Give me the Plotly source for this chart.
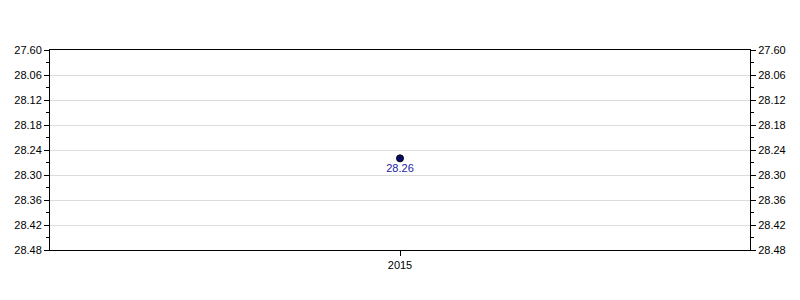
import plotly.graph_objects as go

years = [2015]
values = [28.26]
tick_vals = [28.00, 28.06, 28.12, 28.18, 28.24, 28.30, 28.36, 28.42, 28.48]
tick_text = ["27.60", "28.06", "28.12", "28.18", "28.24", "28.30", "28.36", "28.42", "28.48"]
y_range = [28.48, 28.00]

fig = go.Figure()
fig.add_trace(go.Scatter(
    x=years, y=values, mode="markers+text",
    text=[f"{v:.2f}" for v in values], textposition="bottom center",
    textfont=dict(family="Liberation Sans, Arial", size=11, color="#1a1aa6"),
    marker=dict(size=7, color="#0a0a6e", line=dict(color="black", width=1)),
    showlegend=False, cliponaxis=False,
))
fig.add_trace(go.Scatter(x=years, y=values, yaxis="y2", mode="markers",
                         marker=dict(opacity=0), showlegend=False, hoverinfo="skip"))

axis_common = dict(
    range=y_range, tickvals=tick_vals, ticktext=tick_text,
    ticks="outside", ticklen=5, tickcolor="black", tickwidth=1,
    showline=True, linecolor="black", linewidth=1,
    tickfont=dict(family="Liberation Sans, Arial", size=11, color="black"),
    minor=dict(tickvals=[v + 0.03 for v in tick_vals[:-1]], ticks="outside",
               ticklen=3, tickcolor="black", showgrid=False),
    zeroline=False,
)

fig.update_layout(
    width=800, height=300,
    margin=dict(l=50, r=50, t=50, b=50),
    plot_bgcolor="white", paper_bgcolor="white",
    xaxis=dict(range=[2014.5, 2015.5], tickvals=[2015], ticktext=["2015"],
               ticks="outside", ticklen=5, tickcolor="black",
               showline=True, linecolor="black", linewidth=1, mirror=True,
               showgrid=False, zeroline=False,
               tickfont=dict(family="Liberation Sans, Arial", size=11, color="black")),
    yaxis=dict(**axis_common, side="left", showgrid=True, gridcolor="#dcdcdc", gridwidth=1),
    yaxis2=dict(**axis_common, side="right", overlaying="y", showgrid=False),
)

fig.write_html("out.html")
